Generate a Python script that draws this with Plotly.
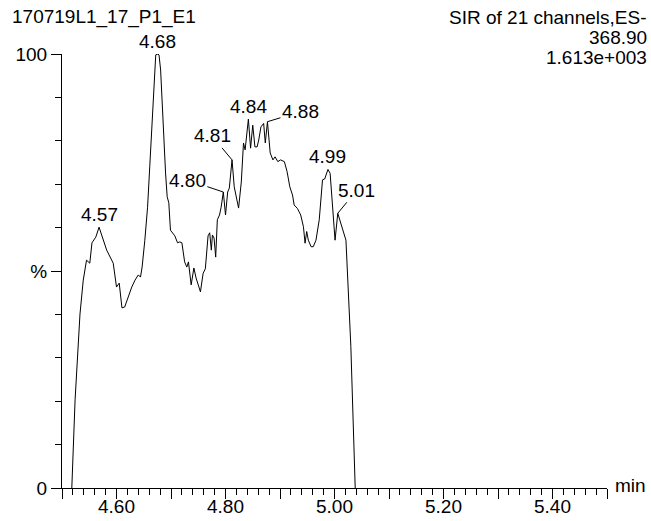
import plotly.graph_objects as go

# Chromatogram trace: retention time (min) and relative intensity (%)
TIME = [4.518, 4.524, 4.533, 4.539, 4.545, 4.551, 4.555, 4.562, 4.568, 4.576,
        4.582, 4.594, 4.600, 4.605, 4.610, 4.615, 4.621, 4.628, 4.634, 4.640,
        4.644, 4.647, 4.652, 4.657, 4.661, 4.665, 4.669, 4.672, 4.676, 4.678,
        4.681, 4.685, 4.690, 4.693, 4.696, 4.699, 4.703, 4.707, 4.712, 4.716,
        4.720, 4.725, 4.729, 4.732, 4.737, 4.742, 4.746, 4.754, 4.759, 4.763,
        4.768, 4.771, 4.774, 4.776, 4.779, 4.782, 4.785, 4.789, 4.792, 4.796,
        4.800, 4.804, 4.807, 4.812, 4.816, 4.824, 4.829, 4.833, 4.836, 4.842,
        4.846, 4.850, 4.854, 4.858, 4.861, 4.865, 4.870, 4.873, 4.877, 4.882,
        4.887, 4.891, 4.896, 4.901, 4.908, 4.913, 4.918, 4.923, 4.926, 4.932,
        4.938, 4.943, 4.946, 4.949, 4.952, 4.957, 4.961, 4.966, 4.972, 4.978,
        4.982, 4.985, 4.988, 4.992, 4.996, 5.001, 5.006, 5.012, 5.019, 5.021,
        5.030, 5.037, 5.038]
PCT = [0, 20.3, 40.1, 47.9, 52.5, 51.8, 56.5, 57.8, 60.1, 57.1,
       54.8, 51.8, 46.3, 47.2, 41.5, 41.7, 44.0, 46.3, 47.9, 49.1,
       48.6, 50.9, 57.1, 64.7, 74.0, 84.1, 93.3, 99.8, 100.0, 99.8,
       96.3, 84.1, 72.6, 67.1, 65.7, 59.4, 58.8, 58.1, 56.5, 56.7,
       56.5, 52.1, 50.9, 52.1, 46.8, 50.7, 48.4, 45.2, 49.5, 50.5,
       58.1, 58.8, 54.8, 58.3, 57.6, 53.2, 61.8, 62.9, 64.7, 68.2,
       62.9, 68.2, 69.1, 75.6, 69.4, 64.5, 70.5, 79.5, 77.9, 85.0,
       78.3, 83.6, 78.6, 78.6, 80.2, 83.2, 84.0, 79.5, 84.4, 77.2,
       75.6, 76.3, 75.2, 75.6, 75.2, 72.9, 69.4, 67.5, 65.2, 64.4,
       62.9, 60.2, 56.4, 59.1, 57.1, 55.6, 55.6, 57.1, 61.8, 71.0,
       71.2, 72.6, 73.4, 72.5, 64.8, 57.1, 63.3, 60.6, 57.9, 57.1,
       32.6, 3.5, 0]

# Peaks annotated with their retention time
PEAK_RT = [4.568, 4.676, 4.796, 4.812, 4.842, 4.877, 4.988, 5.006]
# Peaks whose label sits off to the side with a leader line (pixel offsets)
LEADER_OFFSETS = {4.796: (-36, -12), 4.812: (-20, -24),
                  4.877: (33, -10), 5.006: (19, -23)}

X_TICKS = [4.50, 4.60, 4.70, 4.80, 4.90, 5.00, 5.10, 5.20, 5.30, 5.40, 5.50]
X_TICK_TEXT = ["", "4.60", "", "4.80", "", "5.00", "", "5.20", "", "5.40", ""]
Y_TICKS = [0, 50, 100]
Y_TICK_TEXT = ["0", "%", "100"]

SAMPLE = "170719L1_17_P1_E1"
HEADER = ["SIR of 21 channels,ES-", "368.90", "1.613e+003"]

FONT = "Liberation Sans, Arial, Helvetica, sans-serif"
FS = 19

fig = go.Figure()
fig.add_trace(go.Scatter(x=TIME, y=PCT, mode="lines",
                         line=dict(color="black", width=1),
                         hoverinfo="skip", showlegend=False))

annotations = []
for rt in PEAK_RT:
    y = PCT[TIME.index(rt)]
    label = f"{rt:.2f}"
    if rt in LEADER_OFFSETS:
        ax, ay = LEADER_OFFSETS[rt]
        annotations.append(dict(x=rt, y=y, xref="x", yref="y", text=label,
                                showarrow=True, arrowhead=0, arrowwidth=1,
                                arrowcolor="black", ax=ax, ay=ay, standoff=0,
                                font=dict(family=FONT, size=FS, color="black")))
    else:
        annotations.append(dict(x=rt, y=y, xref="x", yref="y", text=label,
                                showarrow=False, yanchor="middle", yshift=13,
                                font=dict(family=FONT, size=FS, color="black")))

annotations.append(dict(x=0, y=1, xref="paper", yref="paper", text=SAMPLE,
                        showarrow=False, xanchor="left", yanchor="middle",
                        xshift=-52, yshift=37,
                        font=dict(family=FONT, size=FS, color="black")))
for i, line in enumerate(HEADER):
    annotations.append(dict(x=1, y=1, xref="paper", yref="paper", text=line,
                            showarrow=False, xanchor="right", yanchor="middle",
                            xshift=42, yshift=37 - 20 * i,
                            font=dict(family=FONT, size=FS, color="black")))
annotations.append(dict(x=1, y=0, xref="paper", yref="paper", text="min",
                        showarrow=False, xanchor="left", yanchor="middle",
                        xshift=6, yshift=3,
                        font=dict(family=FONT, size=FS, color="black")))

fig.update_layout(
    width=651, height=521,
    margin=dict(l=62, r=44, t=54, b=33, autoexpand=False),
    paper_bgcolor="white", plot_bgcolor="white",
    font=dict(family=FONT, size=FS, color="black"),
    annotations=annotations,
    xaxis=dict(range=[4.5, 5.5], tickmode="array", tickvals=X_TICKS,
               ticktext=X_TICK_TEXT, ticks="outside", ticklen=10,
               tickwidth=1, tickcolor="black", showline=True,
               linecolor="black", linewidth=1, showgrid=False,
               zeroline=False, automargin=False, ticklabelstandoff=-9,
               tickfont=dict(family=FONT, size=FS),
               minor=dict(dtick=0.02, tick0=4.5, ticks="outside", ticklen=6,
                          tickwidth=1, tickcolor="black", showgrid=False)),
    yaxis=dict(range=[0, 100], tickmode="array", tickvals=Y_TICKS,
               ticktext=Y_TICK_TEXT, ticks="outside", ticklen=10,
               tickwidth=1, tickcolor="black", showline=True,
               linecolor="black", linewidth=1, showgrid=False,
               zeroline=False, automargin=False,
               tickfont=dict(family=FONT, size=FS),
               minor=dict(dtick=10, ticks="outside", ticklen=6,
                          tickwidth=1, tickcolor="black", showgrid=False)),
)

fig.write_html("out.html")
